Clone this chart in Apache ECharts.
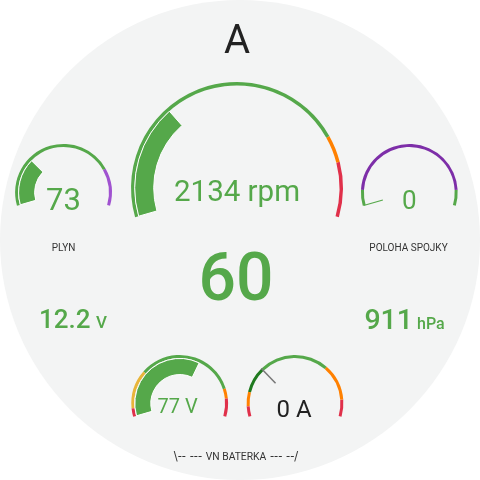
<!DOCTYPE html>
<html><head><meta charset="utf-8">
<script src="https://cdn.jsdelivr.net/npm/echarts@6/dist/echarts.min.js"></script>
<style>html,body{margin:0;padding:0;background:#fff}#c{width:480px;height:480px}</style>
</head><body><div id="c"></div>
<script>
// ---- data ----
const GREEN = '#55a84a', ORANGE = '#ff8000', RED = '#e0304a', PURPLE1 = '#a052d0', PURPLE2 = '#7d2ea8', YELLOW = '#e8b53a', DKGREEN = '#1f7a1f';
const mainTitle = 'A';
const rpmValue = 2134;
const rpmRange = [0, 7000];
const rpmUnit = 'rpm';
const rpmBands = [[5500, GREEN], [6000, ORANGE], [7000, RED]];
const speedValue = 60;
const throttleValue = 73;
const throttleRange = [0, 255];
const throttleBands = [[200, GREEN], [255, PURPLE1]];
const throttleLabel = 'PLYN';
const clutchValue = 0;
const clutchRange = [0, 100];
const clutchBands = [[9, GREEN], [91, PURPLE2], [100, GREEN]];
const clutchLabel = 'POLOHA SPOJKY';
const lvVoltage = 12.2;
const lvUnit = 'V';
const pressureValue = 911;
const pressureUnit = 'hPa';
const hvVoltage = 77;
const hvRange = [0, 124];
const hvBands = [[5.8, RED], [33.5, YELLOW], [104, GREEN], [111, ORANGE], [124, RED]];
const hvCurrent = 0;
const currentRange = [-60, 145];
const currentBands = [[-48, RED], [-31, ORANGE], [0, DKGREEN], [82, GREEN], [125, ORANGE], [145, RED]];
const batteryLabelParts = ['\\-- --- ', 'VN BATERKA', ' --- --/'];

// ---- helpers ----
const FONT = 'Roboto';
function frac(bands, range) {
  return bands.map(b => [(b[0] - range[0]) / (range[1] - range[0]), b[1]]);
}
function base(center, radius, range, value) {
  return {
    type: 'gauge', center, radius, min: range[0], max: range[1],
    startAngle: 196, endAngle: -16, animation: false, silent: true,
    splitLine: { show: false }, axisTick: { show: false }, axisLabel: { show: false },
    anchor: { show: false }, title: { show: false }, pointer: { show: false },
    detail: { show: false }, data: [{ value }]
  };
}
function axisSeries(center, radius, range, value, bands, width, detail, pointer) {
  const s = base(center, radius, range, value);
  s.axisLine = { show: true, lineStyle: { width, color: frac(bands, range) } };
  if (detail) s.detail = Object.assign({ show: true, valueAnimation: false, fontFamily: FONT, fontWeight: 'normal' }, detail);
  if (pointer) s.pointer = pointer;
  return s;
}
function progressSeries(center, radius, range, value, width) {
  const s = base(center, radius, range, value);
  s.axisLine = { show: false };
  s.progress = { show: true, width, roundCap: false, itemStyle: { color: GREEN, borderColor: '#ffffff', borderWidth: 1 } };
  return s;
}

const series = [
  // RPM
  axisSeries([237, 188], 106, rpmRange, rpmValue, rpmBands, 3.5,
    { offsetCenter: [0, 6], fontSize: 29.5, color: GREEN, formatter: v => v + ' ' + rpmUnit }),
  progressSeries([237, 188], 102.3, rpmRange, rpmValue, 19),
  // throttle
  axisSeries([63.5, 192.4], 48.4, throttleRange, throttleValue, throttleBands, 3,
    { offsetCenter: [0, 10], fontSize: 31, color: GREEN, formatter: v => String(v) }),
  progressSeries([63.5, 192.4], 44.9, throttleRange, throttleValue, 16),
  // clutch
  axisSeries([409.3, 192.4], 48.4, clutchRange, clutchValue, clutchBands, 3,
    { offsetCenter: [0, 10.5], fontSize: 26, color: GREEN, formatter: v => String(v) },
    { show: true, icon: 'rect', width: 1.2, length: 20, offsetCenter: [0, -27.5], itemStyle: { color: GREEN } }),
  // HV voltage
  axisSeries([179.7, 403.4], 48.4, hvRange, hvVoltage, hvBands, 3,
    { offsetCenter: [-2, 5], fontSize: 20, color: GREEN, formatter: v => v + ' V' }),
  progressSeries([179.7, 403.4], 44.9, hvRange, hvVoltage, 16),
  // HV current
  axisSeries([295, 403.4], 48.4, currentRange, hvCurrent, currentBands, 3,
    { offsetCenter: [-1, 7.5], fontSize: 24, color: '#222222', formatter: v => v + ' A' },
    { show: true, icon: 'rect', width: 1.5, length: 20.5, offsetCenter: [0, -28], itemStyle: { color: '#777777' } })
];

function txt(x, y, text, size, color, extra) {
  return { type: 'text', x, y, silent: true, style: Object.assign({ text: String(text), fontFamily: FONT, fontSize: size, fill: color, align: 'center', verticalAlign: 'middle' }, extra || {}) };
}

const graphic = [
  { type: 'circle', z: -10, silent: true, shape: { cx: 240, cy: 240, r: 240 }, style: { fill: '#f3f4f4' } },
  txt(237, 43, mainTitle, 40, '#222222'),
  txt(236, 283.5, speedValue, 66, GREEN, { fontWeight: 500 }),
  txt(63.5, 248, throttleLabel, 10, '#333333'),
  txt(408.5, 248, clutchLabel, 10, '#333333'),
  // 12.2 V
  txt(90.5, 321.5, lvVoltage, 26, GREEN, { fontWeight: 500, align: 'right' }),
  txt(96, 324.1, lvUnit, 17, GREEN, { fontWeight: 500, align: 'left' }),
  // 911 hPa
  txt(413, 321.8, pressureValue, 28.5, GREEN, { fontWeight: 500, align: 'right' }),
  txt(417, 325.4, pressureUnit, 16, GREEN, { fontWeight: 500, align: 'left' }),
  // battery label
  { type: 'text', x: 236, y: 457, silent: true, style: {
      text: '{d|' + batteryLabelParts[0] + '}{t|' + batteryLabelParts[1] + '}{d|' + batteryLabelParts[2] + '}',
      align: 'center', verticalAlign: 'middle',
      rich: { d: { fontFamily: 'DejaVu Sans', fontSize: 11.5, fill: '#333333', color: '#333333', lineHeight: 14, verticalAlign: 'middle' },
              t: { fontFamily: FONT, fontSize: 10.3, fill: '#333333', color: '#333333', lineHeight: 14, verticalAlign: 'middle' } } } }
];

const chart = echarts.init(document.getElementById('c'), null, { renderer: 'canvas' });
chart.setOption({ animation: false, backgroundColor: '#ffffff', series, graphic });
</script>
</body></html>
